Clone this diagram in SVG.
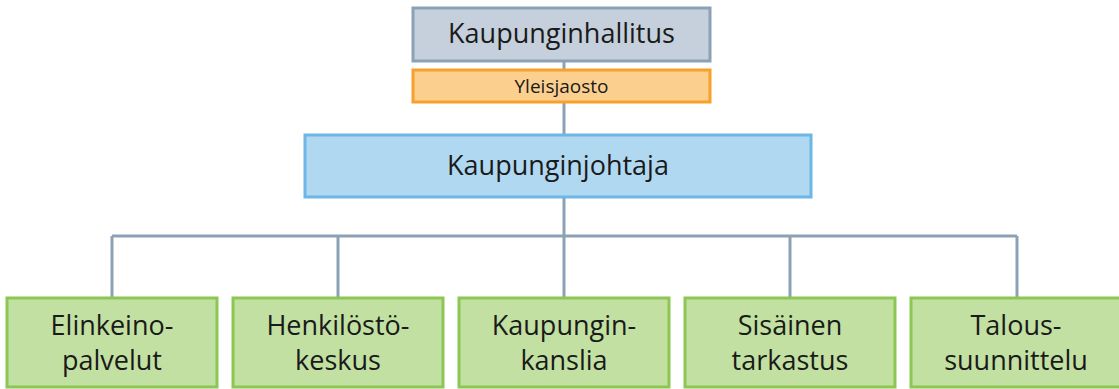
<svg xmlns="http://www.w3.org/2000/svg" width="1119" height="389" viewBox="0 0 1119 389">
<style>
text{font-family:"Open Sans","Noto Sans","Liberation Sans",sans-serif;fill:#1a1a1a;text-anchor:middle}
.big{font-size:27px}
.small{font-size:19px}
.line{stroke:#8ba1b6;stroke-width:3;fill:none}
.gray{fill:#c5d0dc;stroke:#8ba1b6;stroke-width:3}
.orange{fill:#fbcf8e;stroke:#f7a02a;stroke-width:3}
.blue{fill:#b1d8f1;stroke:#6db6e6;stroke-width:3}
.green{fill:#c2e0a1;stroke:#8cc653;stroke-width:3}
</style>
<g id="connectors">
<path class="line" d="M564 61V70M564 102V135M564 197V298M112 236H1017M112 236V298M338 236V298M790 236V298M1017 236V298"/>
</g>
<g id="kaupunginhallitus"><rect class="gray" x="413" y="8" width="297" height="53"/><text class="big" x="561.5" y="43">Kaupunginhallitus</text></g>
<g id="yleisjaosto"><rect class="orange" x="413" y="70" width="297" height="32"/><text class="small" x="561.5" y="93">Yleisjaosto</text></g>
<g id="kaupunginjohtaja"><rect class="blue" x="305" y="135" width="506" height="62"/><text class="big" x="558" y="175">Kaupunginjohtaja</text></g>
<g id="elinkeinopalvelut"><rect class="green" x="7" y="298" width="210" height="89"/><text class="big" x="112" y="335">Elinkeino-</text><text class="big" x="112" y="370">palvelut</text></g>
<g id="henkilostokeskus"><rect class="green" x="233" y="298" width="210" height="89"/><text class="big" x="338" y="335">Henkilöstö-</text><text class="big" x="338" y="370">keskus</text></g>
<g id="kaupunginkanslia"><rect class="green" x="459" y="298" width="210" height="89"/><text class="big" x="564" y="335">Kaupungin-</text><text class="big" x="564" y="370">kanslia</text></g>
<g id="sisainentarkastus"><rect class="green" x="685" y="298" width="210" height="89"/><text class="big" x="790" y="335">Sisäinen</text><text class="big" x="790" y="370">tarkastus</text></g>
<g id="taloussuunnittelu"><rect class="green" x="911" y="298" width="210" height="89"/><text class="big" x="1016" y="335">Talous-</text><text class="big" x="1016" y="370">suunnittelu</text></g>
</svg>
